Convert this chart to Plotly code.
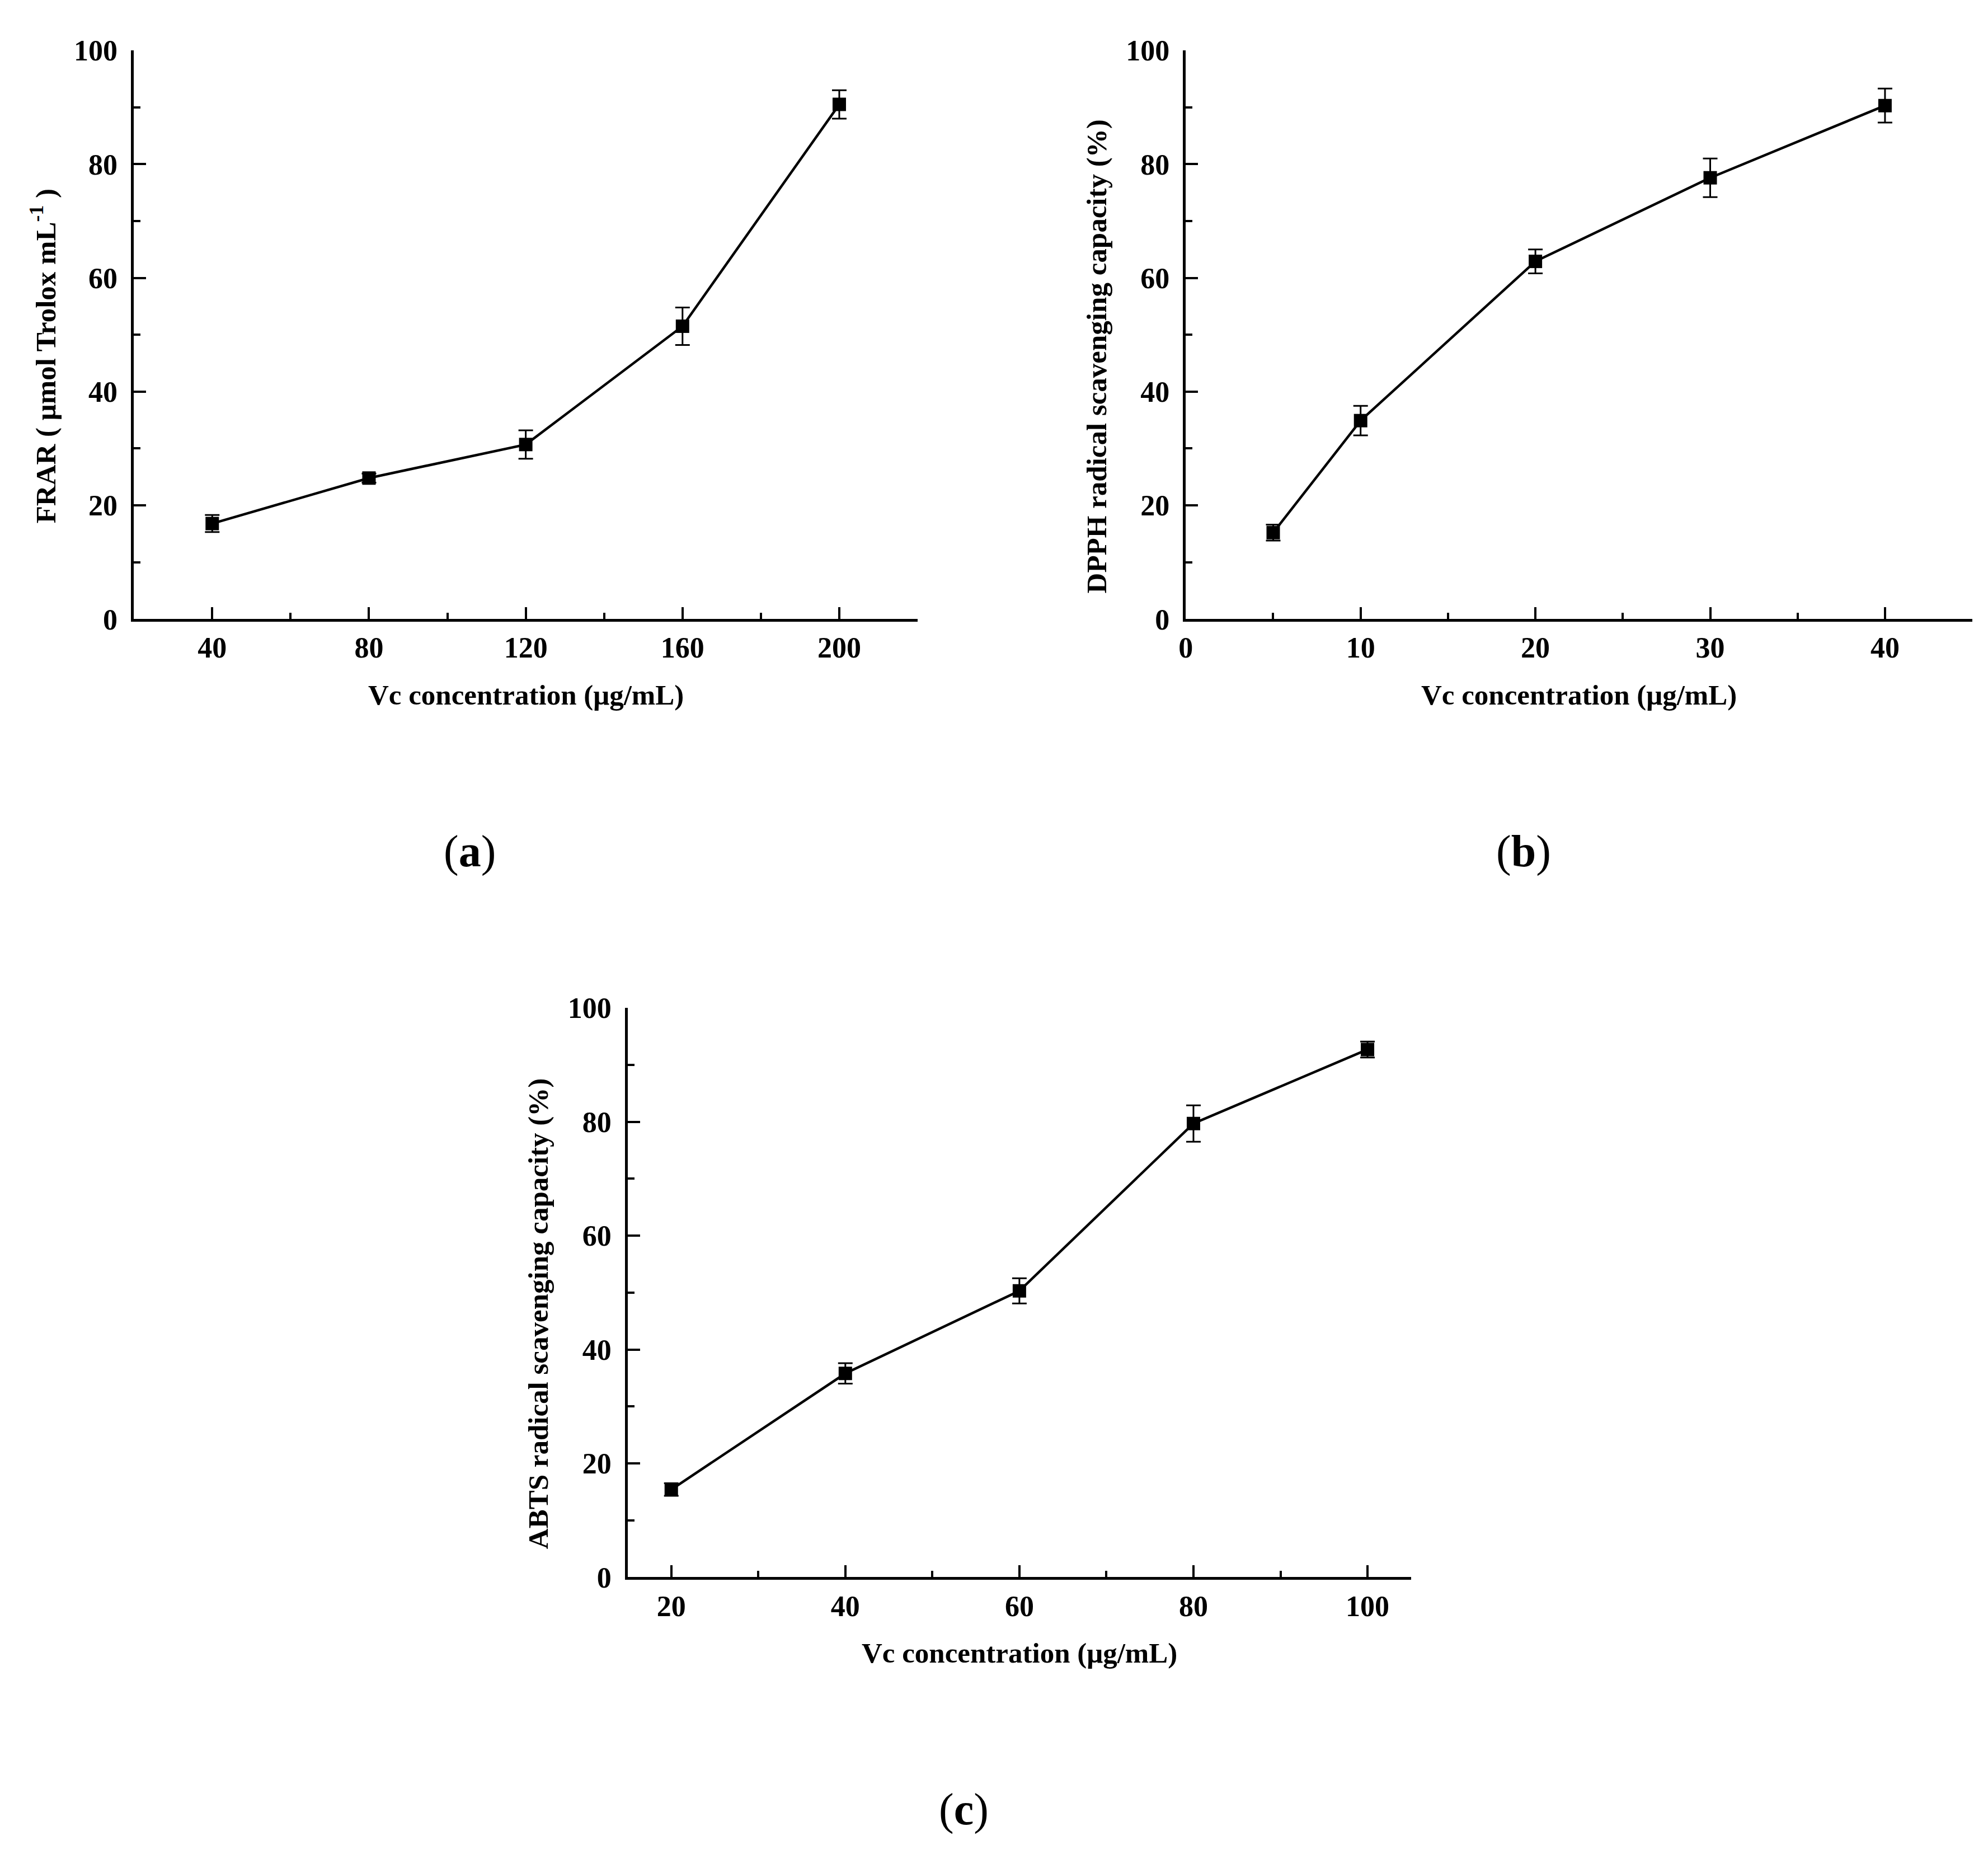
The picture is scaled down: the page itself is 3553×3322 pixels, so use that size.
import plotly.graph_objects as go

W, H = 3553, 3322
OFF = 8  # default body margin of the html page

# panel (a) FRAR
frar_x = [40, 80, 120, 160, 200]
frar_y = [16.8, 24.8, 30.7, 51.5, 90.5]
frar_err = [1.5, 0.8, 2.5, 3.3, 2.5]

# panel (b) DPPH
dpph_x = [5, 10, 20, 30, 40]
dpph_y = [15.2, 34.9, 62.9, 77.6, 90.3]
dpph_err = [1.4, 2.6, 2.1, 3.4, 3.0]

# panel (c) ABTS
abts_x = [20, 40, 60, 80, 100]
abts_y = [15.4, 35.8, 50.3, 79.7, 92.7]
abts_err = [1.1, 1.8, 2.2, 3.2, 1.4]

x_title = "Vc concentration (μg/mL)"
y_titles = ["FRAR ( μmol Trolox mL<sup>-1</sup> )",
            "DPPH radical scavenging capacity (%)",
            "ABTS radical scavenging capacity (%)"]
panel_labels = ["(<b>a</b>)", "(<b>b</b>)", "(<b>c</b>)"]

FONT = "Liberation Serif"


def px_x(v):
    return (v - OFF) / W


def px_y(v):
    return 1 - (v - OFF) / H


# axis boxes in pixels: left, right, top, bottom
boxes = [(227, 1633, 63, 1097), (2114, 3525, 63, 1097), (1113, 2518, 1804, 2839)]
x_ranges = [[20, 220], [0, 45], [15, 105]]
x_ticks = [(40, 40, 20), (0, 10, 5), (20, 20, 10)]
title_x = [64, 1954, 952]

fig = go.Figure()

series = [(frar_x, frar_y, frar_err), (dpph_x, dpph_y, dpph_err), (abts_x, abts_y, abts_err)]
for i, (xs, ys, errs) in enumerate(series):
    sfx = "" if i == 0 else str(i + 1)
    fig.add_trace(go.Scatter(
        x=xs, y=ys, mode="lines+markers",
        xaxis="x" + sfx, yaxis="y" + sfx,
        line=dict(color="black", width=4.5),
        marker=dict(symbol="square", size=24, color="black"),
        error_y=dict(type="data", array=errs, color="black", thickness=3, width=13),
        showlegend=False,
    ))

axis_common = dict(showline=True, linecolor="black", linewidth=4.5, mirror=False,
                   showgrid=False, zeroline=False, ticks="inside", ticklen=22,
                   tickwidth=4, tickcolor="black",
                   tickfont=dict(family=FONT, size=52, color="black", weight="bold"))

layout = dict(width=W, height=H, margin=dict(l=0, r=0, t=0, b=0),
              paper_bgcolor="white", plot_bgcolor="white", annotations=[])

for i, (l, r, t, b) in enumerate(boxes):
    sfx = "" if i == 0 else str(i + 1)
    tick0, dtick, mdtick = x_ticks[i]
    layout["xaxis" + sfx] = dict(
        axis_common, domain=[px_x(l), px_x(r)], range=x_ranges[i],
        anchor="y" + sfx, tick0=tick0, dtick=dtick, ticklabelstandoff=2,
        minor=dict(dtick=mdtick, ticks="inside", ticklen=12, tickwidth=4, tickcolor="black"))
    layout["yaxis" + sfx] = dict(
        axis_common, domain=[px_y(b), px_y(t)], range=[0, 100],
        anchor="x" + sfx, tick0=0, dtick=20, ticklabelstandoff=14,
        minor=dict(dtick=10, ticks="inside", ticklen=12, tickwidth=4, tickcolor="black"))

    cx = (l + r) / 2
    layout["annotations"].append(dict(
        text="<b>%s</b>" % x_title, xref="paper", yref="paper",
        x=px_x(cx), y=px_y(b + 138), xanchor="center", yanchor="middle",
        showarrow=False, font=dict(family=FONT, size=51, color="black")))
    layout["annotations"].append(dict(
        text="<b>%s</b>" % y_titles[i], xref="paper", yref="paper",
        x=px_x(title_x[i]), y=px_y(t + 556), xanchor="center", yanchor="middle",
        textangle=-90, showarrow=False, font=dict(family=FONT, size=51, color="black")))
    layout["annotations"].append(dict(
        text=panel_labels[i], xref="paper", yref="paper",
        x=px_x(cx - 100), y=px_y(b + 422), xanchor="center", yanchor="middle",
        showarrow=False, font=dict(family=FONT, size=80, color="black")))

fig.update_layout(layout)
fig.write_html("out.html", config={"displayModeBar": False})
